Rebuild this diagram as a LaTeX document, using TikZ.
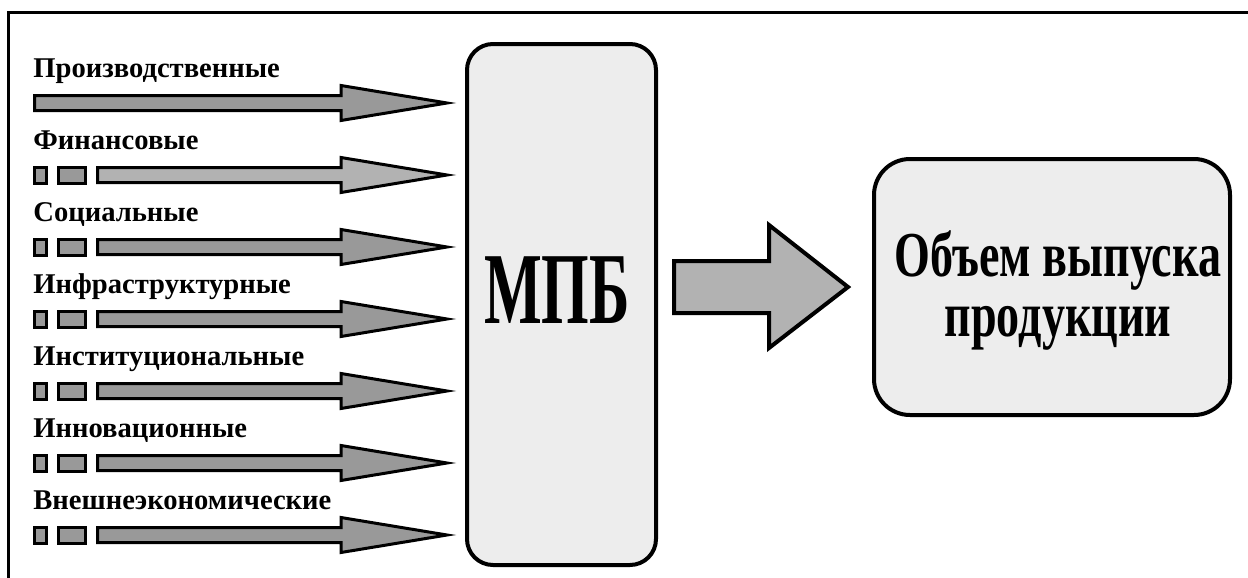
\documentclass[tikz,border=0pt]{standalone}
\usepackage{fontspec}
\setmainfont{Liberation Serif}
\newfontfamily\tnrfont{Liberation Serif}
\begin{document}
\begin{tikzpicture}[x=0.5pt,y=-0.5pt,
  framestyle/.style={line width=1.5pt},
  inarrow/.style={draw=black,line width=1.5pt,fill=black!40},
  inarrowdot/.style={draw=black,line width=1.5pt,fill=black!30},
  stub/.style={draw=black,line width=1.5pt,fill=black!40},
  factor/.style={anchor=base west,inner sep=0pt,font=\tnrfont\fontsize{14.3pt}{16pt}\selectfont\bfseries},
  bigbox/.style={draw=black,line width=2pt,fill=black!7,rounded corners=13pt,inner sep=0pt},
  mainarrow/.style={draw=black,line width=2pt,fill=black!30},
  bigtext/.style={inner sep=0pt,font=\tnrfont\bfseries}]
\useasboundingbox (0,0) rectangle (1248,578);
\fill[white] (0,0) rectangle (1248,578);
% frame
\coordinate (fTL) at (8,12);
\coordinate (fTR) at (1248,12);
\coordinate (fBL) at (8,578);
\draw[framestyle] (fTR) -- (fTL) -- (fBL);

% MPB box
\node[bigbox,minimum width=94.5pt,minimum height=260.5pt] (mpb) at (561.5,304.5) {};
\node[bigtext,anchor=base] (mpbtext) at (557,323) {\scalebox{0.6}[1]{\fontsize{51pt}{55pt}\selectfont МПБ}};

% result box
\node[bigbox,rounded corners=18pt,minimum width=178pt,minimum height=128pt] (out) at (1052,287) {};
\node[bigtext,align=center,anchor=center,font=\tnrfont\bfseries\fontsize{32pt}{30pt}\selectfont] (outtext) at (1058,290)
  {\scalebox{0.72}[1]{Объем выпуска}\\\scalebox{0.72}[1]{продукции}};

% main arrow
\draw[mainarrow] (674,261) -- (769,261) -- (769,225) -- (848,287) -- (769,348) -- (769,313) -- (674,313) -- cycle;

% labels
\node[factor] (l1) at (33,77) {Производственные};
\node[factor] (l2) at (33,149) {Финансовые};
\node[factor] (l3) at (33,221) {Социальные};
\node[factor] (l4) at (33,293) {Инфраструктурные};
\node[factor] (l5) at (33,365) {Институциональные};
\node[factor] (l6) at (33,437) {Инновационные};
\node[factor] (l7) at (33,509) {Внешнеэкономические};

% first arrow (full)
\draw[inarrow,shift={(0,103)}] (34.5,-7.5) -- (341,-7.5) -- (341,-17.5) -- (447,0) -- (341,17.5) -- (341,7.5) -- (34.5,7.5) -- cycle;

% broken arrows
\foreach \yy/\st in {175/inarrowdot,247/inarrow,319/inarrow,391/inarrow,463/inarrow,535/inarrow}{
  \draw[stub,shift={(0,\yy)}] (34.5,-8) rectangle (46.5,8);
  \draw[stub,shift={(0,\yy)}] (58.5,-8) rectangle (85.5,8);
  \draw[\st,shift={(0,\yy)}] (97.5,-7.5) -- (341,-7.5) -- (341,-17.5) -- (447,0) -- (341,17.5) -- (341,7.5) -- (97.5,7.5) -- cycle;
}
\end{tikzpicture}
\end{document}
